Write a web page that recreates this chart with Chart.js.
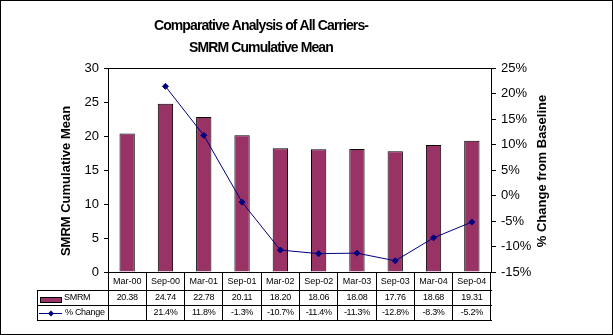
<!DOCTYPE html>
<html>
<head>
<meta charset="utf-8">
<script src="https://cdn.jsdelivr.net/npm/chart.js@4"></script>
<style>
  html, body { margin: 0; padding: 0; background: #fff; }
  canvas { display: block; }
</style>
</head>
<body>
<canvas id="myChart" width="613" height="335"></canvas>
<script>
// valores
const periods = ['Mar-00', 'Sep-00', 'Mar-01', 'Sep-01', 'Mar-02', 'Sep-02', 'Mar-03', 'Sep-03', 'Mar-04', 'Sep-04'];
const smrmMean = [20.38, 24.74, 22.78, 20.11, 18.20, 18.06, 18.08, 17.76, 18.68, 19.31];
const pctChange = [null, 21.4, 11.8, -1.3, -10.7, -11.4, -11.3, -12.8, -8.3, -5.2];
const meanTicks = [0, 5, 10, 15, 20, 25, 30];
const pctTicks = [-15, -10, -5, 0, 5, 10, 15, 20, 25];
const titleLines = ['Comparative Analysis of All Carriers-', 'SMRM Cumulative Mean'];
const seriesNames = ['SMRM', '% Change'];
const axisTitles = ['SMRM Cumulative Mean', '% Change from Baseline'];

const FONT = "'Liberation Sans', Arial, sans-serif";
const BAR = '#993366';
const LINE = '#000080';

Chart.defaults.font.family = FONT;
Chart.defaults.font.size = 13;
Chart.defaults.color = '#000';

function hline(ctx, x1, x2, y) {
  ctx.beginPath();
  ctx.moveTo(x1, Math.round(y) + 0.5);
  ctx.lineTo(x2, Math.round(y) + 0.5);
  ctx.stroke();
}
function vline(ctx, x, y1, y2) {
  ctx.beginPath();
  ctx.moveTo(Math.round(x) + 0.5, y1);
  ctx.lineTo(Math.round(x) + 0.5, y2);
  ctx.stroke();
}

// titulo, titulos dos eixos, tabela de dados e moldura
const extras = {
  id: 'extras',
  beforeDraw(chart) {
    const ctx = chart.ctx;
    ctx.save();
    ctx.fillStyle = '#fff';
    ctx.fillRect(0, 0, chart.width, chart.height);
    ctx.restore();
  },
  afterDraw(chart) {
    const ctx = chart.ctx;
    const a = chart.chartArea;
    const xs = chart.scales.x;
    const rowTop = a.bottom + 18, rowMid = rowTop + 15, rowEnd = rowMid + 15;
    const tableLeft = 37;
    ctx.save();
    ctx.strokeStyle = '#000';
    ctx.lineWidth = 1;

    // moldura
    ctx.strokeRect(0.5, 0.5, chart.width - 1, chart.height - 1);
    // topo da area do grafico
    hline(ctx, a.left, a.right + 1, a.top);

    // linhas da tabela
    hline(ctx, tableLeft, a.right + 1, rowTop);
    hline(ctx, tableLeft, a.right + 1, rowMid);
    hline(ctx, tableLeft, a.right + 1, rowEnd);
    vline(ctx, tableLeft, rowTop, rowEnd + 1);

    // chaves da legenda
    ctx.fillStyle = BAR;
    ctx.fillRect(40, rowTop + 7, 22, 6);
    ctx.strokeRect(40.5, rowTop + 7.5, 21, 5);
    ctx.strokeStyle = LINE;
    const ky = Math.round((rowMid + rowEnd) / 2);
    hline(ctx, 39, 62, ky);
    ctx.fillStyle = LINE;
    const dx = 51;
    ctx.beginPath();
    ctx.moveTo(dx, ky - 2.5); ctx.lineTo(dx + 3, ky + 0.5); ctx.lineTo(dx, ky + 3.5); ctx.lineTo(dx - 3, ky + 0.5);
    ctx.closePath(); ctx.fill();

    ctx.fillStyle = '#000';
    ctx.font = '9px ' + FONT;
    ctx.letterSpacing = '-0.3px';
    ctx.textBaseline = 'middle';
    ctx.textAlign = 'left';
    ctx.fillText(seriesNames[0], 64, (rowTop + rowMid) / 2 + 0.5);
    ctx.fillText(seriesNames[1], 65, (rowMid + rowEnd) / 2 + 0.5);

    ctx.textAlign = 'center';
    periods.forEach((p, i) => {
      const cx = xs.getPixelForValue(i);
      ctx.fillText(smrmMean[i].toFixed(2), cx, (rowTop + rowMid) / 2 + 0.5);
      if (pctChange[i] !== null) {
        ctx.fillText(pctChange[i].toFixed(1) + '%', cx, (rowMid + rowEnd) / 2 + 0.5);
      }
    });

    // titulo
    ctx.font = 'bold 14px ' + FONT;
    ctx.letterSpacing = '-0.9px';
    ctx.fillText(titleLines[0], 261, 26);
    ctx.fillText(titleLines[1], 261, 48);

    // titulos dos eixos
    ctx.font = 'bold 13px ' + FONT;
    ctx.letterSpacing = '0px';
    ctx.save();
    ctx.translate(66, 181);
    ctx.rotate(-Math.PI / 2);
    ctx.fillText(axisTitles[0], 0, 0);
    ctx.restore();
    ctx.save();
    ctx.translate(542, 171);
    ctx.rotate(-Math.PI / 2);
    ctx.fillText(axisTitles[1], 0, 0);
    ctx.restore();

    ctx.restore();
  }
};

const ctx = document.getElementById('myChart').getContext('2d');

const chart = new Chart(ctx, {
  type: 'bar',
  data: {
    labels: periods,
    datasets: [{
      label: seriesNames[0],
      data: smrmMean,
      backgroundColor: BAR,
      borderColor: '#000',
      borderWidth: 1,
      barPercentage: 0.4,
      categoryPercentage: 1,
      yAxisID: 'y',
      order: 2
    }, {
      type: 'line',
      label: seriesNames[1],
      data: pctChange,
      borderColor: LINE,
      borderWidth: 1,
      backgroundColor: LINE,
      pointStyle: 'rectRot',
      pointRadius: 3,
      pointBackgroundColor: LINE,
      pointBorderColor: LINE,
      tension: 0,
      yAxisID: 'y1',
      order: 1
    }]
  },
  options: {
    responsive: false,
    animation: false,
    layout: { padding: { top: 68, left: 0, right: 0, bottom: 0 } },
    plugins: {
      legend: { display: false },
      tooltip: { enabled: false },
      title: { display: false }
    },
    scales: {
      x: {
        grid: { offset: true, drawOnChartArea: false, tickLength: 48, color: '#000' },
        border: { color: '#000' },
        ticks: { padding: -44, maxRotation: 0, minRotation: 0, autoSkip: false, font: { size: 9 } },
        afterFit(s) { s.height = 63; }
      },
      y: {
        position: 'left',
        min: meanTicks[0],
        max: meanTicks[meanTicks.length - 1],
        ticks: { stepSize: meanTicks[1] - meanTicks[0], padding: 5 },
        grid: { drawOnChartArea: false, tickLength: 4, color: '#000' },
        border: { color: '#000' },
        afterFit(s) { s.width = 108; }
      },
      y1: {
        position: 'right',
        min: pctTicks[0],
        max: pctTicks[pctTicks.length - 1],
        ticks: { stepSize: pctTicks[1] - pctTicks[0], padding: 5, callback: v => v + '%' },
        grid: { drawOnChartArea: false, tickLength: 5, color: '#000' },
        border: { color: '#000' },
        afterFit(s) { s.width = 122; }
      }
    }
  },
  plugins: [extras]
});
</script>
</body>
</html>
